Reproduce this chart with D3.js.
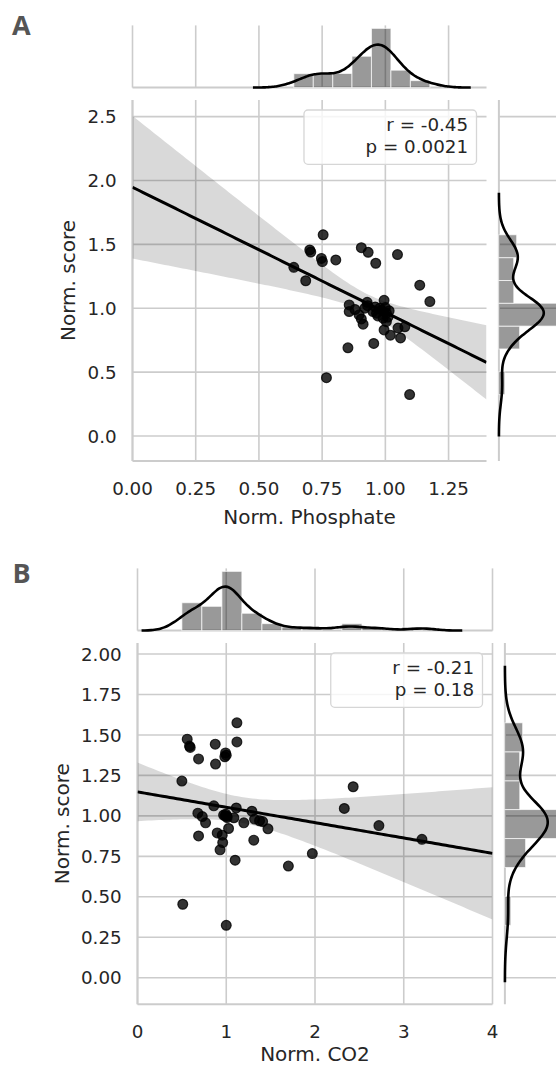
<!DOCTYPE html>
<html>
<head>
<meta charset="utf-8">
<script src="https://cdn.jsdelivr.net/npm/d3@7"></script>
<style>
  body { margin: 0; background: #fff; }
  svg text { font-family: "DejaVu Sans", sans-serif; fill: #262626; }
  .panel-letter { font-family: "Open Sans", sans-serif; font-weight: bold; font-size: 27px; fill: #555 !important; }
</style>
</head>
<body>
<div id="chart"></div>
<script>
// ---- panel A: phosphate vs score ----
const phosphate = [0.754, 0.905, 0.701, 0.705, 0.932, 1.048, 0.747, 0.804, 0.751, 0.962,
  0.638, 0.685, 1.136, 0.995, 1.176, 0.928, 1.096, 0.767, 0.852, 0.954,
  1.060, 1.020, 0.995, 1.050, 1.077,
  0.857, 0.857, 0.919, 0.896, 0.905, 0.912, 0.880, 0.930, 0.951, 0.965,
  1.000, 1.004, 0.991, 1.004, 0.978, 0.985, 1.010, 1.015, 0.960, 0.970];
const scoreA = [1.575, 1.474, 1.456, 1.440, 1.438, 1.420, 1.390, 1.378, 1.365, 1.352,
  1.320, 1.215, 1.180, 1.062, 1.052, 1.046, 0.324, 0.456, 0.690, 0.724,
  0.767, 0.789, 0.830, 0.845, 0.855,
  1.026, 0.974, 1.000, 0.948, 0.916, 0.875, 0.990, 1.020, 0.974, 0.961,
  1.005, 0.961, 0.922, 0.895, 1.000, 0.985, 0.930, 0.980, 1.010, 0.940];

// ---- panel B: CO2 vs score ----
const co2 = [1.120, 0.560, 1.120, 0.876, 0.586, 0.594, 0.992, 1.000, 0.984, 0.688,
  0.879, 0.500, 2.430, 2.330, 0.860, 1.113, 1.000, 0.510, 1.700, 1.100,
  1.970, 0.930, 0.960, 1.310, 3.205, 0.680, 0.730, 0.688, 0.767, 0.898,
  0.955, 0.989, 1.007, 1.086, 1.026, 1.198, 1.289, 1.319, 1.375, 1.410,
  1.470, 2.720, 0.995, 1.010, 0.970];
const scoreB = [1.575, 1.474, 1.457, 1.443, 1.431, 1.423, 1.389, 1.375, 1.365, 1.352,
  1.320, 1.215, 1.180, 1.046, 1.062, 1.049, 0.324, 0.454, 0.690, 0.726,
  0.767, 0.790, 0.835, 0.850, 0.855, 1.017, 0.996, 0.876, 0.957, 0.895,
  0.881, 1.000, 0.998, 0.988, 0.922, 0.957, 1.029, 0.980, 0.970, 0.965,
  0.920, 0.940, 1.010, 0.990, 1.005];

// marginal histograms (bin edges + counts)
const phosEdges = [0.638, 0.715, 0.792, 0.868, 0.945, 1.022, 1.099, 1.176];
const phosCounts = [4, 4, 4, 9, 17, 5, 2];
const scoreEdges = [0.324, 0.503, 0.681, 0.860, 1.039, 1.217, 1.396, 1.575];
const scoreCounts = [2, 0, 7, 20, 5, 5, 6];
const co2Edges = [0.500, 0.725, 0.951, 1.176, 1.402, 1.627, 1.853, 2.078, 2.303, 2.529, 2.754, 2.980, 3.205];
const co2Counts = [8, 7, 17, 5, 2, 1, 1, 0, 2, 1, 0, 1];

// ticks and annotations
const phosTicks = [0, 0.25, 0.5, 0.75, 1.0, 1.25];
const scoreTicksA = [0, 0.5, 1.0, 1.5, 2.0, 2.5];
const co2Ticks = [0, 1, 2, 3, 4];
const scoreTicksB = [0, 0.25, 0.5, 0.75, 1.0, 1.25, 1.5, 1.75, 2.0];
const statsA = ["r = -0.45", "p = 0.0021"];
const statsB = ["r = -0.21", "p = 0.18"];

const W = 556, H = 1067;
const marg = 62.2, gap = 12.4;
const grid = "#cccccc";

const svg = d3.select("#chart").append("svg")
  .attr("width", W).attr("height", H);

function kde(values) {
  const n = values.length;
  const s = values.slice().sort(d3.ascending);
  const iqr = d3.quantile(s, 0.75) - d3.quantile(s, 0.25);
  const bw = 1.059 * Math.min(d3.deviation(values), iqr / 1.349) * Math.pow(n, -0.2);
  const lo = s[0] - 3 * bw, hi = s[n - 1] + 3 * bw;
  return d3.range(100).map(i => {
    const g = lo + (hi - lo) * i / 99;
    return [g, d3.mean(values, v => Math.exp(-0.5 * ((g - v) / bw) ** 2)) / (bw * Math.sqrt(2 * Math.PI))];
  });
}

function regfit(xs, ys, x0, x1) {
  const n = xs.length, mx = d3.mean(xs), my = d3.mean(ys);
  let sxx = 0, sxy = 0;
  xs.forEach((x, i) => { sxx += (x - mx) ** 2; sxy += (x - mx) * (ys[i] - my); });
  const b = sxy / sxx, a = my - b * mx;
  let sse = 0;
  xs.forEach((x, i) => { sse += (ys[i] - a - b * x) ** 2; });
  const se = Math.sqrt(sse / (n - 2)), t = 2.017;
  return d3.range(100).map(i => {
    const x = x0 + (x1 - x0) * i / 99, yh = a + b * x;
    const h = t * se * Math.sqrt(1 / n + (x - mx) ** 2 / sxx);
    return { x, y: yh, lo: yh - h, hi: yh + h };
  });
}

function histDensity(edges, counts) {
  const n = d3.sum(counts);
  return counts.map((c, i) => ({ x0: edges[i], x1: edges[i + 1], d: c / (n * (edges[i + 1] - edges[i])) }));
}

function panel(cfg) {
  const { left, right, top, bottom } = cfg;
  const x = d3.scaleLinear().domain(cfg.xDomain).range([left, right]);
  const y = d3.scaleLinear().domain(cfg.yDomain).range([bottom, top]);
  const g = svg.append("g");
  const clipId = "clip" + cfg.letter;
  svg.append("clipPath").attr("id", clipId)
    .append("rect").attr("x", left).attr("y", top).attr("width", right - left).attr("height", bottom - top);

  // grid
  g.selectAll(".vg").data(cfg.xTicks).enter().append("line")
    .attr("x1", d => x(d)).attr("x2", d => x(d)).attr("y1", top).attr("y2", bottom)
    .attr("stroke", grid).attr("stroke-width", 1.6);
  g.selectAll(".hg").data(cfg.yTicks).enter().append("line")
    .attr("x1", left).attr("x2", right).attr("y1", d => y(d)).attr("y2", d => y(d))
    .attr("stroke", grid).attr("stroke-width", 1.6);
  g.append("line").attr("x1", left).attr("x2", left).attr("y1", top).attr("y2", bottom)
    .attr("stroke", grid).attr("stroke-width", 2);
  g.append("line").attr("x1", left).attr("x2", right).attr("y1", bottom).attr("y2", bottom)
    .attr("stroke", grid).attr("stroke-width", 2);

  // scatter
  const pts = cfg.xs.map((v, i) => [v, cfg.ys[i]]);
  g.selectAll(".dot").data(pts).enter().append("circle")
    .attr("cx", d => x(d[0])).attr("cy", d => y(d[1])).attr("r", 4.9)
    .attr("fill", "#000").attr("fill-opacity", 0.8)
    .attr("stroke", "#000").attr("stroke-opacity", 0.8).attr("stroke-width", 1.2);

  // regression line and CI band
  const fit = regfit(cfg.xs, cfg.ys, cfg.xDomain[0], cfg.xDomain[1]);
  const fg = g.append("g").attr("clip-path", `url(#${clipId})`);
  fg.append("path").datum(fit)
    .attr("d", d3.area().x(d => x(d.x)).y0(d => y(d.lo)).y1(d => y(d.hi)))
    .attr("fill", "#000").attr("fill-opacity", 0.15);
  fg.append("path").datum(fit)
    .attr("d", d3.line().x(d => x(d.x)).y(d => y(d.y)))
    .attr("fill", "none").attr("stroke", "#000").attr("stroke-width", 3);

  // axes labels
  g.selectAll(".xt").data(cfg.xTicks).enter().append("text")
    .attr("x", d => x(d)).attr("y", bottom + 34).attr("text-anchor", "middle")
    .attr("font-size", 18.3).text(d3.format(cfg.xFmt));
  g.selectAll(".yt").data(cfg.yTicks).enter().append("text")
    .attr("x", left - 15.8).attr("y", d => y(d)).attr("dy", "0.36em").attr("text-anchor", "end")
    .attr("font-size", 18.3).text(d3.format(cfg.yFmt));
  g.append("text").attr("x", (left + right) / 2).attr("y", Math.min(bottom + 63, H - 6))
    .attr("text-anchor", "middle").attr("font-size", 20).text(cfg.xLabel);
  g.append("text").attr("transform", `translate(${cfg.yLabelX},${(top + bottom) / 2}) rotate(-90)`)
    .attr("text-anchor", "middle").attr("font-size", 20).text("Norm. score");

  // legend box with stats
  const lg = g.append("g");
  const box = lg.append("rect");
  const texts = lg.selectAll(".st").data(cfg.stats).enter().append("text")
    .attr("x", right - 18.4).attr("y", (d, i) => top + 31 + i * 22.3)
    .attr("text-anchor", "end").attr("font-size", 18.3).text(d => d);
  const tw = d3.max(texts.nodes(), n => n.getComputedTextLength());
  box.attr("x", right - 10 - tw - 70).attr("y", top + 10)
    .attr("width", tw + 70).attr("height", 54.3).attr("rx", 4)
    .attr("fill", "#fff").attr("fill-opacity", 0.8).attr("stroke", "#d6d6d6").attr("stroke-width", 1.3);

  // top marginal
  const tb = top - gap, tt = tb - marg;
  const hx = histDensity(cfg.xEdges, cfg.xCounts), kx = kde(cfg.xs);
  const dxMax = 1.05 * Math.max(d3.max(hx, d => d.d), d3.max(kx, d => d[1]));
  const my = d3.scaleLinear().domain([0, dxMax]).range([tb, tt]);
  g.selectAll(".tvg").data(cfg.xTicks).enter().append("line")
    .attr("x1", d => x(d)).attr("x2", d => x(d)).attr("y1", tt).attr("y2", tb)
    .attr("stroke", grid).attr("stroke-width", 1.6);
  g.append("line").attr("x1", left).attr("x2", right).attr("y1", tb).attr("y2", tb)
    .attr("stroke", grid).attr("stroke-width", 2);
  g.selectAll(".hbx").data(hx).enter().append("rect")
    .attr("x", d => x(d.x0)).attr("width", d => x(d.x1) - x(d.x0))
    .attr("y", d => my(d.d)).attr("height", d => tb - my(d.d))
    .attr("fill", "#000").attr("fill-opacity", 0.4)
    .attr("stroke", "#fff").attr("stroke-opacity", 0.7).attr("stroke-width", 1);
  g.append("path").datum(kx)
    .attr("d", d3.line().x(d => x(d[0])).y(d => my(d[1])).curve(d3.curveBasis))
    .attr("fill", "none").attr("stroke", "#000").attr("stroke-width", 2.6);

  // right marginal
  const rl = right + gap, rr = rl + marg;
  const hy = histDensity(cfg.yEdges, cfg.yCounts), ky = kde(cfg.ys);
  const dyMax = 1.05 * Math.max(d3.max(hy, d => d.d), d3.max(ky, d => d[1]));
  const mx = d3.scaleLinear().domain([0, dyMax]).range([rl, rr]);
  g.selectAll(".rhg").data(cfg.yTicks).enter().append("line")
    .attr("x1", rl).attr("x2", rr).attr("y1", d => y(d)).attr("y2", d => y(d))
    .attr("stroke", grid).attr("stroke-width", 1.6);
  g.append("line").attr("x1", rl).attr("x2", rl).attr("y1", top).attr("y2", bottom)
    .attr("stroke", grid).attr("stroke-width", 2);
  g.selectAll(".hby").data(hy).enter().append("rect")
    .attr("x", rl).attr("width", d => mx(d.d) - rl)
    .attr("y", d => y(d.x1)).attr("height", d => y(d.x0) - y(d.x1))
    .attr("fill", "#000").attr("fill-opacity", 0.4)
    .attr("stroke", "#fff").attr("stroke-opacity", 0.7).attr("stroke-width", 1);
  g.append("path").datum(ky)
    .attr("d", d3.line().x(d => mx(d[1])).y(d => y(d[0])).curve(d3.curveBasis))
    .attr("fill", "none").attr("stroke", "#000").attr("stroke-width", 2.6);

  svg.append("text").attr("class", "panel-letter")
    .attr("x", cfg.letterPos[0]).attr("y", cfg.letterPos[1]).text(cfg.letter);
}

panel({
  letter: "A", letterPos: [12, 35.4],
  left: 132.5, right: 486.5, top: 100, bottom: 461,
  xDomain: [0, 1.4], yDomain: [-0.196, 2.63],
  xTicks: phosTicks, yTicks: scoreTicksA, xFmt: ".2f", yFmt: ".1f",
  xs: phosphate, ys: scoreA, xEdges: phosEdges, xCounts: phosCounts,
  yEdges: scoreEdges, yCounts: scoreCounts,
  xLabel: "Norm. Phosphate", yLabelX: 75, stats: statsA
});

panel({
  letter: "B", letterPos: [12.5, 582.6],
  left: 137.5, right: 492.5, top: 643, bottom: 1004.3,
  xDomain: [0, 4], yDomain: [-0.164, 2.068],
  xTicks: co2Ticks, yTicks: scoreTicksB, xFmt: "d", yFmt: ".2f",
  xs: co2, ys: scoreB, xEdges: co2Edges, xCounts: co2Counts,
  yEdges: scoreEdges, yCounts: scoreCounts,
  xLabel: "Norm. CO2", yLabelX: 69, stats: statsB
});
</script>
</body>
</html>
